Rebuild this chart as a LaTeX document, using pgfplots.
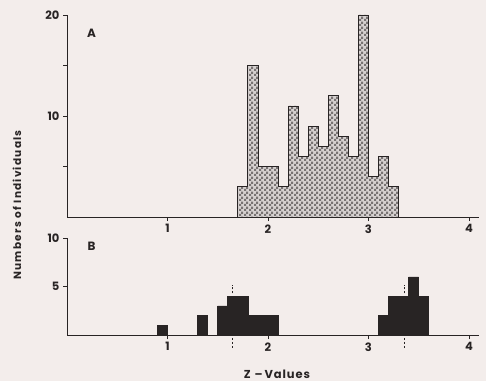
\documentclass[border=0pt]{standalone}
\usepackage{fontspec}
\setmainfont{Poppins}
\usepackage{pgfplots}
\usetikzlibrary{patterns}
\pgfplotsset{compat=1.18}
\definecolor{paper}{RGB}{243,237,235}
\definecolor{ink}{RGB}{40,36,36}
\definecolor{hatchlight}{RGB}{214,209,208}
\definecolor{hatchdark}{RGB}{120,115,115}
\pgfdeclarepatternformonly{finecheck}{\pgfpointorigin}{\pgfqpoint{4.6pt}{4.6pt}}{\pgfqpoint{4.6pt}{4.6pt}}{%
  \pgfpathrectangle{\pgfpointorigin}{\pgfqpoint{2.3pt}{2.3pt}}%
  \pgfpathrectangle{\pgfqpoint{2.3pt}{2.3pt}}{\pgfqpoint{2.3pt}{2.3pt}}%
  \pgfusepath{fill}}
\pgfplotsset{
  panel/.style={
    scale only axis, width=412pt,
    xmin=0, xmax=4.1, ymin=0,
    axis lines=left,
    axis line style={-, line width=1pt, ink},
    xtick={1,2,3,4},
    tick style={line width=0.9pt, ink},
    major tick length=4pt,
    tick align=outside,
    /pgf/number format/assume math mode=true,
    ticklabel style={font=\bfseries\fontsize{11.5}{12}\selectfont, text=ink},
    clip=false,
  }
}
\begin{document}
\begin{tikzpicture}[x=1pt,y=1pt]
\fill[paper] (0,0) rectangle (486,381);
% Panel A
\begin{axis}[panel, at={(67pt,164pt)}, anchor=south west, height=202pt,
  ymax=20, ytick={5,10,15,20}, yticklabels={,10,,20}]
\addplot [const plot, fill=hatchlight, draw=ink, line width=0.8pt,
  postaction={pattern=finecheck, pattern color=hatchdark}] coordinates {
(1.7,3) (1.8,15) (1.9,5) (2.0,5) (2.1,3) (2.2,11) (2.3,6) (2.4,9) (2.5,7)
(2.6,12) (2.7,8) (2.8,6) (2.9,20) (3.0,4) (3.1,6) (3.2,3) (3.3,3)} \closedcycle;
\addplot [const plot, draw=ink, line width=0.8pt] coordinates {
(1.7,3) (1.8,15) (1.9,5) (2.0,5) (2.1,3) (2.2,11) (2.3,6) (2.4,9) (2.5,7)
(2.6,12) (2.7,8) (2.8,6) (2.9,20) (3.0,4) (3.1,6) (3.2,3) (3.3,3)} \closedcycle;
\node[font=\bfseries\fontsize{12}{12}\selectfont, text=ink] at (axis cs:0.245,18.2) {A};
\end{axis}
% Panel B
\begin{axis}[panel, at={(67pt,46pt)}, anchor=south west, height=97pt,
  ymax=10, ytick={5,10}]
\addplot [const plot, fill=ink, draw=ink, line width=0.6pt] coordinates {
(0.9,1) (1.0,0) (1.3,2) (1.4,0) (1.5,3) (1.6,4) (1.7,4) (1.8,2) (1.9,2) (2.0,2) (2.1,0)
(3.1,2) (3.2,4) (3.3,4) (3.4,6) (3.5,4) (3.6,0)} \closedcycle;
\addplot [ink, line width=0.9pt, dash pattern=on 2pt off 2pt] coordinates {(1.65,4.3) (1.65,5.2)};
\addplot [ink, line width=0.9pt, dash pattern=on 2pt off 2pt] coordinates {(1.65,-0.3) (1.65,-1.3)};
\addplot [ink, line width=0.9pt, dash pattern=on 2pt off 2pt] coordinates {(3.36,4.3) (3.36,5.2)};
\addplot [ink, line width=0.9pt, dash pattern=on 2pt off 2pt] coordinates {(3.36,-0.3) (3.36,-1.3)};
\node[font=\bfseries\fontsize{12}{12}\selectfont, text=ink] at (axis cs:0.245,9.1) {B};
\end{axis}
\node[rotate=90, font=\bfseries\fontsize{10.5}{12}\selectfont\addfontfeature{LetterSpace=12}, text=ink] at (17,176) {Numbers of Individuals};
\node[font=\bfseries\fontsize{11.5}{12}\selectfont\addfontfeature{LetterSpace=8}, text=ink] at (277,7) {Z\,\,--\,Values};
\end{tikzpicture}
\end{document}
